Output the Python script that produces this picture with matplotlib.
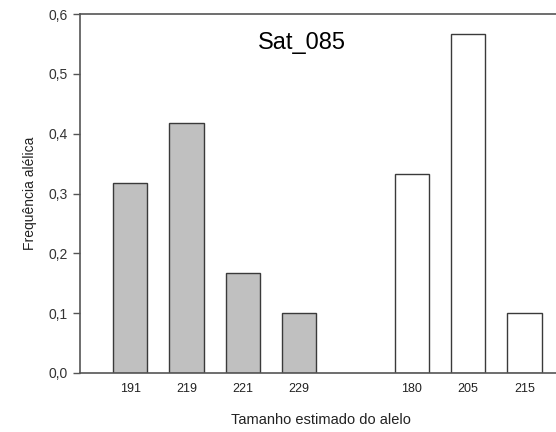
import numpy as np
import matplotlib
matplotlib.use("Agg")
import matplotlib.pyplot as plt

plt.rcParams["font.family"] = ["Liberation Sans", "DejaVu Sans"]

# Allele sizes and frequencies (two groups)
alleles_a = ["191", "219", "221", "229"]
freq_a = [0.317, 0.417, 0.167, 0.100]
alleles_b = ["180", "205", "215"]
freq_b = [0.333, 0.567, 0.100]

pos_a = np.arange(len(alleles_a))
pos_b = np.arange(len(alleles_b)) + len(alleles_a) + 1

fig = plt.figure(figsize=(5.56, 4.32), dpi=100)
ax = fig.add_axes([80 / 556, 1 - 373 / 432, 1.01 - 80 / 556, (373 - 14) / 432])

edge = "#3a3a3a"
ax.bar(pos_a, freq_a, width=0.61, color="#c0c0c0", edgecolor=edge, linewidth=1.0)
ax.bar(pos_b, freq_b, width=0.61, color="white", edgecolor=edge, linewidth=1.0)

ax.set_xlim(-0.89, 7.66)
ax.set_ylim(0, 0.6)
ax.set_xticks(np.concatenate([pos_a, pos_b]))
ax.set_xticklabels(alleles_a + alleles_b, fontsize=9, color="#222222")
ax.tick_params(axis="x", length=0, pad=7)
ax.set_yticks(np.arange(0, 0.61, 0.1))
ax.set_yticklabels([f"{v:.1f}".replace(".", ",") for v in np.arange(0, 0.61, 0.1)],
                   fontsize=10, color="#333333")
ax.tick_params(axis="y", direction="out", length=5, width=1, color="#555555", pad=4)

for s in ax.spines.values():
    s.set_color("#555555")
    s.set_linewidth(1.2)
ax.spines["right"].set_visible(False)

ax.set_ylabel("Frequência alélica", fontsize=10, color="#222222", labelpad=8)
ax.set_xlabel("Tamanho estimado do alelo", fontsize=10.5, color="#222222", labelpad=13)
ax.text(0.46, 0.92, "Sat_085", transform=ax.transAxes, ha="center", va="center", fontsize=17)

fig.savefig("out.png", dpi=100)
